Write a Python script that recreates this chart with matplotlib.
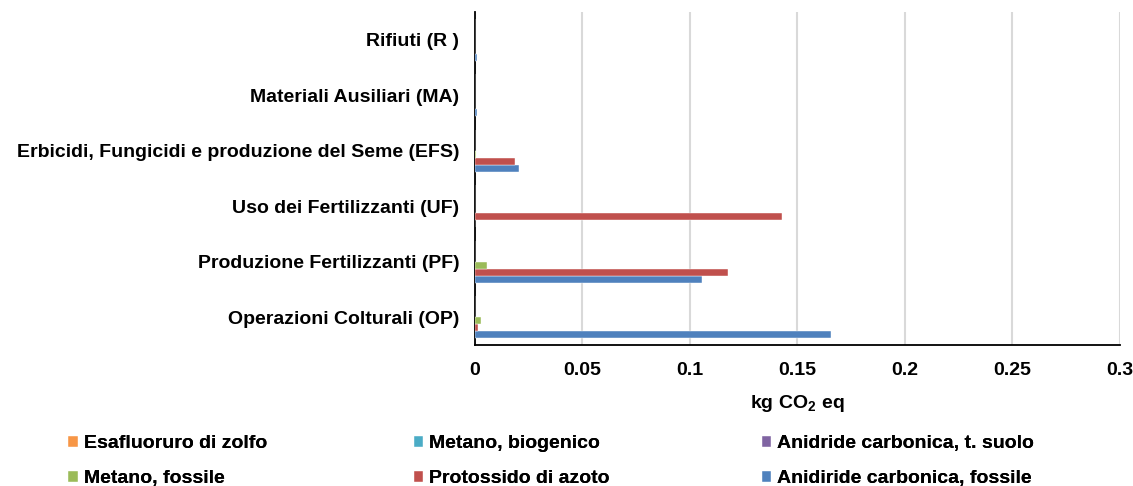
import numpy as np
import matplotlib.pyplot as plt
from matplotlib.ticker import FixedLocator

plt.rcParams['font.family'] = ['Liberation Sans', 'DejaVu Sans']
plt.rcParams['font.weight'] = 'bold'
plt.rcParams['mathtext.fontset'] = 'custom'
plt.rcParams['mathtext.bf'] = 'Liberation Sans:bold'

# categories from bottom to top
categories = ['Operazioni Colturali (OP)', 'Produzione Fertilizzanti (PF)',
              'Uso dei Fertilizzanti (UF)',
              'Erbicidi, Fungicidi e produzione del Seme (EFS)',
              'Materiali Ausiliari (MA)', 'Rifiuti (R )']

# series in drawing order (first = lowest bar in each group)
series_names = ['Anidiride carbonica, fossile', 'Protossido di azoto', 'Metano, fossile',
                'Anidride carbonica, t. suolo', 'Metano, biogenico', 'Esafluoruro di zolfo']
co2_fossile = [0.1656, 0.1056, 0.0, 0.0205, 0.0013, 0.0013]
n2o = [0.0018, 0.1177, 0.1428, 0.0186, 0.0, 0.0]
ch4_fossile = [0.0030, 0.0060, 0.0, 0.0008, 0.0, 0.0]
co2_suolo = [0.0, 0.0, 0.0, 0.0, 0.0, 0.0]
ch4_bio = [0.0, 0.0, 0.0, 0.0, 0.0, 0.0]
sf6 = [0.0, 0.0, 0.0, 0.0, 0.0, 0.0]
values = [co2_fossile, n2o, ch4_fossile, co2_suolo, ch4_bio, sf6]
colors = ['#4F81BD', '#C0504D', '#9BBB59', '#8064A2', '#4BACC6', '#F79646']

xticks = [0, 0.05, 0.1, 0.15, 0.2, 0.25, 0.3]
xticklabels = ['0', '0.05', '0.1', '0.15', '0.2', '0.25', '0.3']

fs = 14

fig = plt.figure(figsize=(11.33, 4.86), dpi=100)
ax = fig.add_axes([0.4188, 0.2901, 0.9885 - 0.4188, 0.9753 - 0.2901])

y = np.arange(len(categories))
h = 0.126
bars = []
for i, (vals, col) in enumerate(zip(values, colors)):
    b = ax.barh(y + (i - 2.5) * h, vals, height=h, color=col,
                edgecolor='white', linewidth=0.3, zorder=3)
    bars.append(b)

ax.set_xlim(0, 0.3)
ax.set_ylim(-0.5, len(categories) - 0.5)
ax.xaxis.set_major_locator(FixedLocator(xticks))
ax.set_xticklabels(xticklabels)
ax.set_yticks(y)
ax.set_yticklabels(categories)
ax.tick_params(axis='both', length=0, labelsize=fs)
ax.tick_params(axis='y', pad=11)
ax.tick_params(axis='x', pad=12)
ax.grid(axis='x', color='#D9D9D9', linewidth=1.5, zorder=0)
for s in ['top', 'right']:
    ax.spines[s].set_visible(False)
for s in ['left', 'bottom']:
    ax.spines[s].set_color('black')
    ax.spines[s].set_linewidth(1.3)
ax.set_xlabel('kg CO$_\\mathbf{2}$ eq', fontsize=fs, fontweight='bold', labelpad=10)

# legend, three columns laid out row by row
cols = [(5, 2), (4, 1), (3, 0)]
xs = [0.0514, 0.3566, 0.6636]
for (a, b), x0 in zip(cols, xs):
    leg = fig.legend([bars[a], bars[b]], [series_names[a], series_names[b]],
                     loc='upper left', bbox_to_anchor=(x0, 0.125), frameon=False,
                     fontsize=fs, handlelength=0.5, handleheight=0.5,
                     handletextpad=0.3, labelspacing=0.95, borderpad=0)
    fig.add_artist(leg)

fig.savefig('out.png', dpi=100)
